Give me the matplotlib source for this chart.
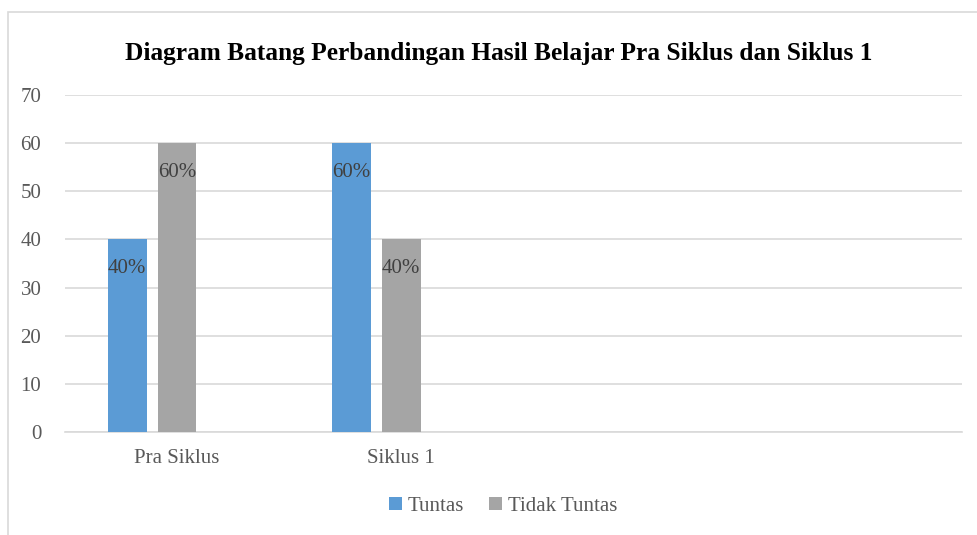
import numpy as np
import matplotlib.pyplot as plt
from matplotlib.patches import Rectangle

categories = ['Pra Siklus', 'Siklus 1', '', '']
tuntas = [40, 60]
tidak_tuntas = [60, 40]
labels_tuntas = ['40%', '60%']
labels_tidak = ['60%', '40%']
title = 'Diagram Batang Perbandingan Hasil Belajar Pra Siklus dan Siklus 1'

plt.rcParams['font.family'] = ['Liberation Serif', 'DejaVu Serif']

fig = plt.figure(figsize=(9.77, 5.35), dpi=100)
ax = fig.add_axes([0.0665, 0.1925, 0.918, 0.63])

# chart border
fig.patches.append(Rectangle((8 / 977, -0.1), 1.1, 1 - 12 / 535 + 0.1,
                             transform=fig.transFigure, fill=False,
                             edgecolor='#d9d9d9', linewidth=1.2))

x = np.arange(len(tuntas))
w = 0.173
off = 0.222
b1 = ax.bar(x - off, tuntas, w, color='#5b9bd5', label='Tuntas', zorder=3)
b2 = ax.bar(x, tidak_tuntas, w, color='#a5a5a5', label='Tidak Tuntas', zorder=3)

for bars, labs in ((b1, labels_tuntas), (b2, labels_tidak)):
    for rect, lab in zip(bars, labs):
        ax.text(rect.get_x() + rect.get_width() / 2, rect.get_height() - 6.0, lab,
                ha='center', va='center', fontsize=15, color='#404040', zorder=4)

ax.set_xlim(-0.5, len(categories) - 0.5)
ax.set_ylim(0, 70)
ax.set_yticks(range(0, 71, 10))
ax.set_xticks(range(len(categories)))
ax.set_xticklabels(categories)
ax.tick_params(axis='both', length=0, labelsize=15, labelcolor='#595959')
ax.tick_params(axis='y', pad=17)
ax.tick_params(axis='x', pad=12)
ax.grid(axis='y', color='#d9d9d9', linewidth=1.2, zorder=0)
for s in ['top', 'right', 'left']:
    ax.spines[s].set_visible(False)
ax.spines['bottom'].set_color('#d9d9d9')
ax.spines['bottom'].set_linewidth(1.2)

fig.text(0.511, 0.900, title, ha='center', va='center', fontsize=18.3,
         fontweight='bold', color='black')

leg = fig.legend(loc='center', bbox_to_anchor=(0.515, 0.053), ncol=2, frameon=False,
                 fontsize=15, handlelength=0.6, handleheight=0.6, handletextpad=0.3,
                 columnspacing=1.2)
for t in leg.get_texts():
    t.set_color('#595959')

fig.savefig('out.png', dpi=100)
